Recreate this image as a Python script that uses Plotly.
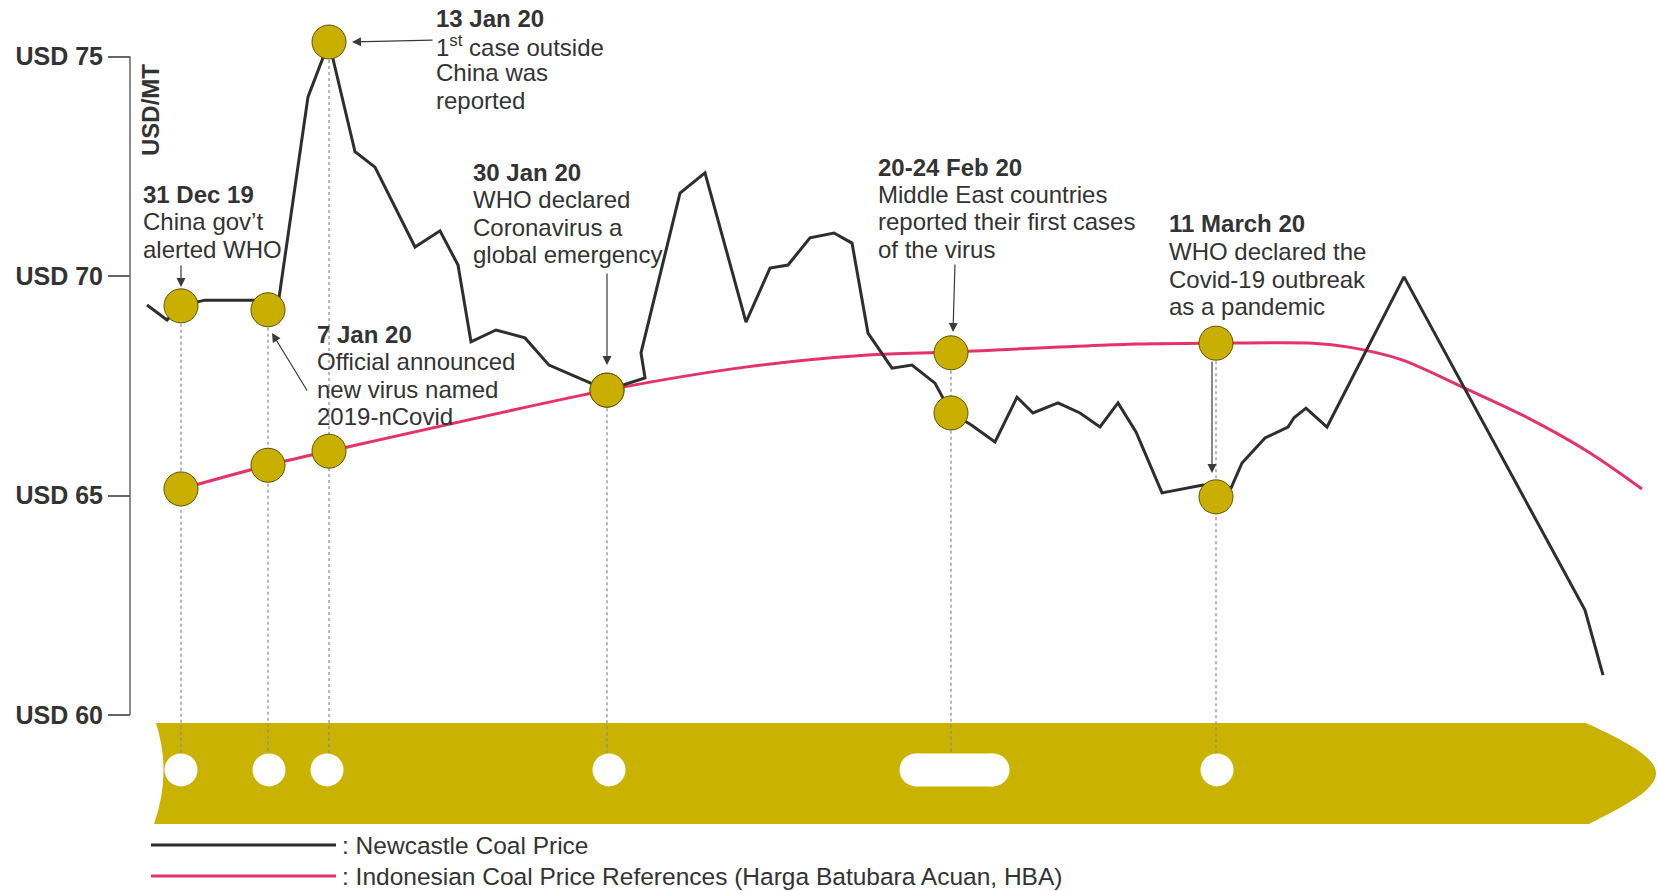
import plotly.graph_objects as go

# ---------------- data ----------------
# x = timeline position (0 = 31 Dec 2019), y = USD per metric tonne
newcastle_t = [-3.4, -1.4, 0.0, 2.4, 8.5, 9.8, 12.7, 14.8, 17.4, 19.4, 23.4, 25.9, 27.7,
               29.0, 31.5, 34.4, 36.8, 42.6, 46.4, 46.0, 49.9, 52.4, 56.5, 58.9, 60.7,
               62.9, 65.3, 67.1, 68.7, 71.1, 73.1, 75.4, 77.0, 79.0, 81.4, 83.6, 85.2,
               87.7, 89.9, 91.9, 93.7, 95.5, 98.1, 102.2, 105.0, 106.1, 108.4, 110.7,
               111.3, 112.5, 114.6, 122.3, 140.4, 142.2]
newcastle_usd = [69.34, 69.00, 69.32, 69.45, 69.45, 69.50, 74.08, 75.33, 72.83, 72.48,
                 70.66, 71.03, 70.25, 68.50, 68.77, 68.59, 67.97, 67.40, 67.68, 68.25,
                 71.89, 72.35, 68.95, 70.18, 70.25, 70.87, 70.98, 70.75, 68.70, 67.90,
                 67.97, 67.56, 66.88, 66.61, 66.22, 67.24, 66.88, 67.11, 66.88, 66.56,
                 67.11, 66.45, 65.06, 65.24, 65.17, 65.74, 66.31, 66.56, 66.77, 66.99,
                 66.56, 69.98, 62.39, 60.91]

hba_t = [0.0, 8.7, 14.8, 42.6, 56.6, 68.7, 77.0, 95.5, 103.5, 113.2, 116.8, 122.1,
         128.8, 134.5, 140.9, 146.1]
hba_usd = [65.15, 65.69, 66.01, 67.40, 67.93, 68.20, 68.27, 68.45, 68.47, 68.47, 68.38,
           68.09, 67.40, 66.79, 65.97, 65.15]

event_titles = ["31 Dec 19", "7 Jan 20", "13 Jan 20", "30 Jan 20", "20-24 Feb 20", "11 March 20"]
event_texts = [
    ["China gov’t", "alerted WHO"],
    ["Official announced", "new virus named", "2019-nCovid"],
    ["1<sup>st</sup> case outside", "China was", "reported"],
    ["WHO declared", "Coronavirus a", "global emergency"],
    ["Middle East countries", "reported their first cases", "of the virus"],
    ["WHO declared the", "Covid-19 outbreak", "as a pandemic"],
]
event_t = [0.0, 8.7, 14.8, 42.6, 77.0, 103.5]
event_newcastle = [69.32, 69.23, 75.33, 67.40, 66.88, 64.97]
event_hba = [65.15, 65.69, 66.01, 67.40, 68.25, 68.47]
hole_start = [0.0, 8.8, 14.6, 42.8, 73.5, 103.6]
hole_end = [0.0, 8.8, 14.6, 42.8, 81.2, 103.6]

y_ticks = [60, 65, 70, 75]
y_tick_labels = ["USD 60", "USD 65", "USD 70", "USD 75"]

series_names = ["Newcastle Coal Price",
                "Indonesian Coal Price References (Harga Batubara Acuan, HBA)"]

# ---------------- styling ----------------
W, H = 1657, 891
FONT = "Liberation Sans, Arial, sans-serif"
TXT = "#333333"
GOLD = "#C9B000"
BELT = "#C9B200"
RED = "#E5336A"
BLACK = "#2e2e2e"
X_RANGE = [-18.1, 147.6]
Y_RANGE = [55.991, 76.287]
HOLE_Y = 58.75
BELT_TOP, BELT_BOT = 59.82, 57.52


def px(x):
    return x / W


def py(y):
    return 1 - y / H


fig = go.Figure()

# dotted guide lines from each event down to its hole in the belt
gx, gy = [], []
for t, a, b in zip(event_t, event_newcastle, event_hba):
    gx += [t, t, None]
    gy += [max(a, b), HOLE_Y, None]
fig.add_trace(go.Scatter(x=gx, y=gy, mode="lines", hoverinfo="skip",
                         line=dict(color="#8a8a8a", width=1.2, dash="dot")))

# belt holes
for s, e in zip(hole_start, hole_end):
    if s == e:
        fig.add_trace(go.Scatter(x=[s], y=[HOLE_Y], mode="markers", hoverinfo="skip",
                                 marker=dict(size=33, color="white", line=dict(width=0))))
    else:
        fig.add_trace(go.Scatter(x=[s, e], y=[HOLE_Y, HOLE_Y], mode="lines+markers",
                                 hoverinfo="skip",
                                 line=dict(color="white", width=33),
                                 marker=dict(size=33, color="white", line=dict(width=0))))

# series
fig.add_trace(go.Scatter(x=hba_t, y=hba_usd, mode="lines", name=series_names[1],
                         line=dict(color=RED, width=3, shape="spline", smoothing=0.8)))
fig.add_trace(go.Scatter(x=newcastle_t, y=newcastle_usd, mode="lines", name=series_names[0],
                         line=dict(color=BLACK, width=3)))

# event markers
fig.add_trace(go.Scatter(x=event_t + event_t, y=event_newcastle + event_hba, mode="markers",
                         hoverinfo="skip",
                         marker=dict(size=34, color=GOLD, line=dict(color="#5c5200", width=1))))

# belt shape
belt_path = (f"M -2.5,{BELT_TOP} L 140.5,{BELT_TOP} "
             f"C 144.5,59.4 147.5,59.05 147.5,{(BELT_TOP + BELT_BOT) / 2} "
             f"C 147.5,58.3 144.5,57.95 140.8,{BELT_BOT} "
             f"L -2.7,{BELT_BOT} Q -0.9,{(BELT_TOP + BELT_BOT) / 2} -2.5,{BELT_TOP} Z")
shapes = [
    dict(type="path", xref="x", yref="y", path=belt_path, fillcolor=BELT,
         line=dict(width=0), layer="below"),
    dict(type="line", xref="paper", yref="y", x0=px(130), x1=px(130), y0=60, y1=75,
         line=dict(color="#666666", width=1.5)),
    dict(type="line", xref="paper", yref="paper", x0=px(151), x1=px(336), y0=py(845), y1=py(845),
         line=dict(color=BLACK, width=3)),
    dict(type="line", xref="paper", yref="paper", x0=px(151), x1=px(336), y0=py(876), y1=py(876),
         line=dict(color=RED, width=3)),
]

annotations = []
# event label positions (left x, first-line centre y) in pixels
label_left = [140.5, 315, 434, 471, 876, 1167]
label_top = [194.5, 334, 18, 172.3, 167, 224]
LINE_H = 27.5
for title, lines, lx, ly in zip(event_titles, event_texts, label_left, label_top):
    all_lines = ["<b>" + title + "</b>"] + lines
    for i, s in enumerate(all_lines):
        annotations.append(dict(xref="paper", yref="paper", x=px(lx), y=py(ly + i * LINE_H),
                                xanchor="left", yanchor="middle", text=s, showarrow=False,
                                font=dict(family=FONT, size=24, color=TXT)))

# arrows (head, tail) in pixels
arrows = [((181, 287), (181, 264)), ((272, 333), (308, 392)), ((352, 42), (434, 40)),
          ((607, 365), (607, 272)), ((953, 332), (955, 263)), ((1212, 473), (1212, 360))]
for (hx, hy), (tx, ty) in arrows:
    annotations.append(dict(xref="paper", yref="paper", x=px(hx), y=py(hy), text="",
                            showarrow=True, ax=tx - hx, ay=ty - hy, arrowhead=2,
                            arrowsize=1.5, arrowwidth=1.2, arrowcolor="#3a3a3a"))

# y axis title
annotations.append(dict(xref="paper", yref="paper", x=px(150.5), y=py(110.5), text="<b>USD/MT</b>",
                        textangle=-90, showarrow=False, xanchor="center", yanchor="middle",
                        font=dict(family=FONT, size=24, color=TXT)))
# legend texts
for name, yy in zip(series_names, [845, 876]):
    annotations.append(dict(xref="paper", yref="paper", x=px(340), y=py(yy), xanchor="left",
                            yanchor="middle", text=": " + name, showarrow=False,
                            font=dict(family=FONT, size=24.5, color=TXT)))

fig.update_layout(
    width=W, height=H, margin=dict(l=0, r=0, t=0, b=0),
    paper_bgcolor="white", plot_bgcolor="white", showlegend=False,
    xaxis=dict(range=X_RANGE, domain=[0, 1], visible=False, fixedrange=True),
    yaxis=dict(range=Y_RANGE, domain=[0, 1], anchor="free", position=px(130),
               showgrid=False, zeroline=False, showline=False, ticks="outside",
               ticklen=22, tickwidth=1.5, tickcolor="#666666",
               tickvals=y_ticks, ticktext=["<b>" + s + "</b>" for s in y_tick_labels],
               tickfont=dict(family=FONT, size=25, color=TXT), fixedrange=True),
    shapes=shapes, annotations=annotations, hovermode=False,
)

fig.write_html("out.html", config={"displayModeBar": False},
               post_script="document.body.style.margin='0px';document.body.style.overflow='hidden';")
